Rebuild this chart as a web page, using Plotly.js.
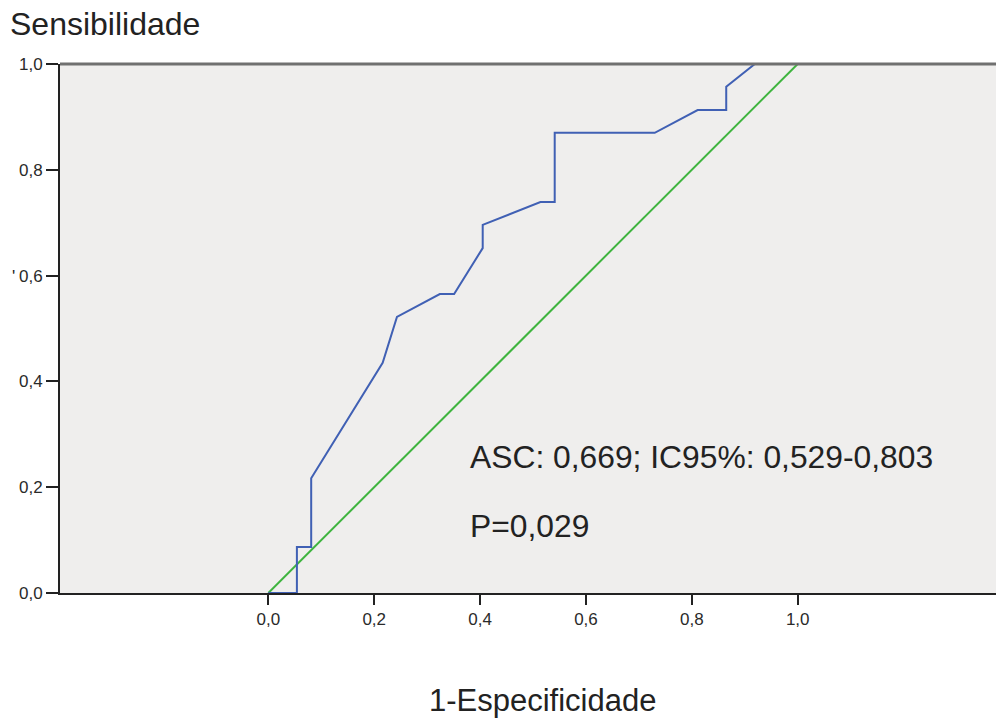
<!DOCTYPE html>
<html>
<head>
<meta charset="utf-8">
<script src="https://cdn.plot.ly/plotly-3.0.1.min.js"></script>
<style>html,body{margin:0;padding:0;background:#fff;}#chart{width:996px;height:719px;}</style>
</head>
<body>
<div id="chart"></div>
<script>
// ROC curve (1-Especificidade, Sensibilidade)
const rocX = [0, 0.054, 0.054, 0.081, 0.081, 0.216, 0.243, 0.324, 0.351, 0.405, 0.405, 0.514, 0.541, 0.541, 0.730, 0.811, 0.865, 0.865, 0.919, 1.0];
const rocY = [0, 0, 0.087, 0.087, 0.217, 0.435, 0.522, 0.565, 0.565, 0.652, 0.696, 0.739, 0.739, 0.870, 0.870, 0.913, 0.913, 0.957, 1.0, 1.0];
// Reference diagonal
const refX = [0, 1];
const refY = [0, 1];
// Ticks
const tickVals = [0, 0.2, 0.4, 0.6, 0.8, 1.0];
const tickText = ['0,0', '0,2', '0,4', '0,6', '0,8', '1,0'];
// Texts
const yTitle = 'Sensibilidade';
const xTitle = '1-Especificidade';
const aucText = 'ASC: 0,669; IC95%: 0,529-0,803';
const pText = 'P=0,029';

const FONT = 'Arial, "Liberation Sans", sans-serif';

const data = [
  {x: refX, y: refY, mode: 'lines', type: 'scatter', line: {color: '#3fb43f', width: 2}, hoverinfo: 'skip', cliponaxis: false},
  {x: rocX, y: rocY, mode: 'lines', type: 'scatter', line: {color: '#4060b4', width: 2}, hoverinfo: 'skip', cliponaxis: false}
];

const layout = {
  width: 996, height: 719,
  margin: {l: 60, r: 0, t: 64, b: 126, pad: 0},
  paper_bgcolor: '#ffffff',
  plot_bgcolor: '#efeeed',
  showlegend: false,
  font: {family: FONT, color: '#222'},
  xaxis: {
    range: [-0.3935, 1.3746],
    tickvals: tickVals, ticktext: tickText,
    ticks: 'outside', ticklen: 10, tickwidth: 2, tickcolor: '#222',
    showline: true, linecolor: '#222', linewidth: 2,
    showgrid: false, zeroline: false,
    tickfont: {family: FONT, size: 17, color: '#2a2a2a'},
    fixedrange: true
  },
  yaxis: {
    range: [0, 1],
    tickvals: tickVals, ticktext: tickText,
    ticks: 'outside', ticklen: 12, tickwidth: 2, tickcolor: '#222',
    showline: true, linecolor: '#222', linewidth: 2,
    showgrid: false, zeroline: false,
    tickfont: {family: FONT, size: 17, color: '#2a2a2a'},
    fixedrange: true
  },
  shapes: [
    {type: 'line', xref: 'paper', yref: 'paper', x0: 0, x1: 1, y0: 1, y1: 1, line: {color: '#707070', width: 3}, layer: 'above'}
  ],
  annotations: [
    {text: yTitle, xref: 'paper', yref: 'paper', x: -0.0555, y: 1.0747, xanchor: 'left', yanchor: 'middle', showarrow: false, font: {family: FONT, size: 32, color: '#222'}},
    {text: xTitle, xref: 'paper', yref: 'paper', x: (542 - 60) / 936, y: (593 - 700) / 529, xanchor: 'center', yanchor: 'middle', showarrow: false, font: {family: FONT, size: 31, color: '#222'}},
    {text: aucText, xref: 'x', yref: 'y', x: 0.378, y: 0.257, xanchor: 'left', yanchor: 'middle', showarrow: false, font: {family: FONT, size: 31.8, color: '#222'}},
    {text: pText, xref: 'x', yref: 'y', x: 0.378, y: 0.127, xanchor: 'left', yanchor: 'middle', showarrow: false, font: {family: FONT, size: 31.8, color: '#222'}},
    {text: "'", xref: 'paper', yref: 'paper', x: (13 - 60) / 936, y: (593 - 276) / 529, xanchor: 'center', yanchor: 'middle', showarrow: false, font: {family: FONT, size: 17, color: '#222'}}
  ]
};

Plotly.newPlot('chart', data, layout, {staticPlot: true, displayModeBar: false});
</script>
</body>
</html>
